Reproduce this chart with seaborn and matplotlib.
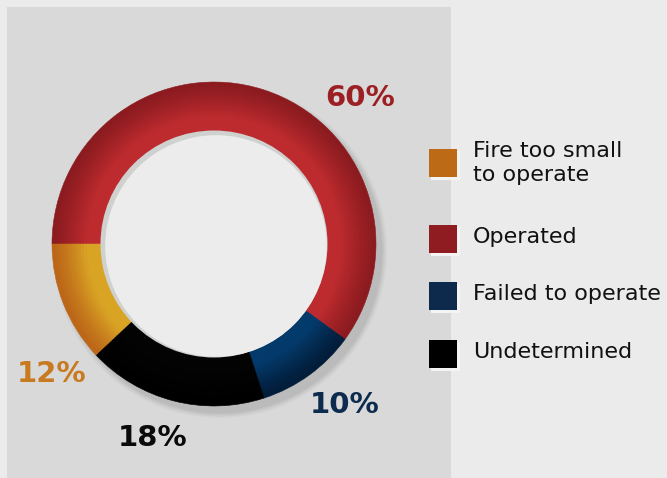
import numpy as np
import matplotlib
matplotlib.use("Agg")
import matplotlib.pyplot as plt
import matplotlib.colors as mcolors
from matplotlib.patches import Rectangle, Circle
import seaborn as sns

# ---- data ----
categories = ["Operated", "Failed to operate", "Undetermined", "Fire too small\nto operate"]
values = [60, 10, 18, 12]
pct_labels = ["60%", "10%", "18%", "12%"]
legend_order = ["Fire too small\nto operate", "Operated", "Failed to operate", "Undetermined"]

# ---- style ----
sns.set_theme(style="white")
plt.rcParams['font.family'] = ['DejaVu Sans']

dark_cols = {"Operated": "#8a1b1f", "Failed to operate": "#021c38",
             "Undetermined": "#000000", "Fire too small\nto operate": "#bb6418"}
light_cols = {"Operated": "#bd2b2f", "Failed to operate": "#033a6c",
              "Undetermined": "#030303", "Fire too small\nto operate": "#d9a424"}
legend_cols = {"Operated": "#8e1c20", "Failed to operate": "#0d2a4c",
               "Undetermined": "#000000", "Fire too small\nto operate": "#bd6a17"}
label_cols = {"Operated": "#9c2023", "Failed to operate": "#0d2b4e",
              "Undetermined": "#0a0a0a", "Fire too small\nto operate": "#c87a20"}

W, H = 667, 478
fig = plt.figure(figsize=(W / 100, H / 100), dpi=100)
fig.patch.set_facecolor("#ebebeb")
ax = fig.add_axes([0, 0, 1, 1])
ax.set_facecolor("#ebebeb")

def Y(y):
    return H - y

# panel
ax.add_patch(Rectangle((7, Y(478)), 444, 471, facecolor="#d9d9d9", edgecolor="none", zorder=0))

cx, cy = 214, Y(244)
r_out, r_in = 162, 113

# soft shadow
for k, a in enumerate([0.12, 0.15, 0.2, 0.3]):
    ax.add_patch(Circle((cx + 6, cy - 7), r_out + 5 - 1.5 * k, facecolor="#a8a8a8",
                        edgecolor="none", alpha=a, zorder=1))

# shaded ring built from concentric sub-rings
n = 16
dr = (r_out - r_in) / n
for i in range(n):
    t = (i + 0.5) / n  # 0 inner -> 1 outer
    f = float(np.clip((1 - t) / 0.7, 0, 1)) ** 1.2
    cols = []
    for c in categories:
        d = np.array(mcolors.to_rgb(dark_cols[c]))
        l = np.array(mcolors.to_rgb(light_cols[c]))
        cols.append(tuple(d + (l - d) * f))
    wedges, _ = ax.pie(values, colors=cols, startangle=180, counterclock=False,
                       radius=r_in + (i + 1) * dr, center=(cx, cy),
                       wedgeprops=dict(width=dr + 0.6, linewidth=0.4))
    for w, col in zip(wedges, cols):
        w.set_edgecolor(col)
        w.set_zorder(3)

# hole with inner shadow
ax.add_patch(Circle((cx, cy), r_in + 0.5, facecolor="#cfd1cf", edgecolor="none", zorder=5))
ax.add_patch(Circle((cx + 2, cy - 2), r_in - 2.2, facecolor="#ececec", edgecolor="none", zorder=6))

# percentage labels
label_pos = {"Operated": (360, 98), "Failed to operate": (345, 405),
             "Undetermined": (153, 438), "Fire too small\nto operate": (52, 374)}
for c, p in zip(categories, pct_labels):
    x, y = label_pos[c]
    ax.text(x, Y(y), p, ha="center", va="center", fontsize=21, fontweight="bold",
            color=label_cols[c], zorder=10)

# legend
sq_y = [163, 239, 296, 354]
for c, yc in zip(legend_order, sq_y):
    ax.add_patch(Rectangle((431, Y(yc) - 17), 29, 29, facecolor="#f4f4f4",
                           edgecolor="none", zorder=7))
    ax.add_patch(Rectangle((429, Y(yc) - 14), 28, 28, facecolor=legend_cols[c],
                           edgecolor="none", zorder=8))
    ax.text(473, Y(yc) + (2 if "\n" not in c else 0), c, ha="left", va="center",
            fontsize=16, color="#111111", linespacing=1.25, zorder=9)

ax.set_xlim(0, W)
ax.set_ylim(0, H)
ax.set_aspect("auto")
ax.axis("off")
fig.savefig("out.png", dpi=100, facecolor=fig.get_facecolor())
